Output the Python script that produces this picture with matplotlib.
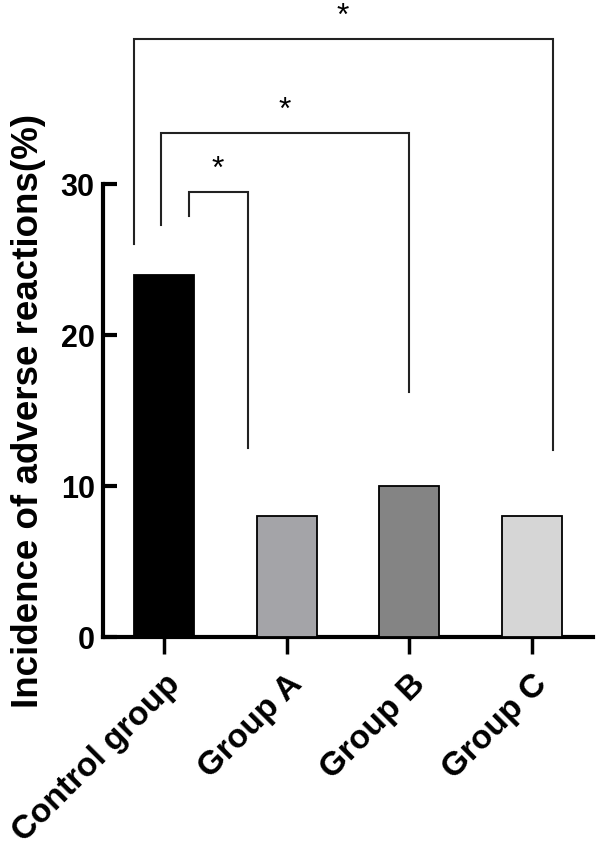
import matplotlib.pyplot as plt
import numpy as np

plt.rcParams['font.family'] = ['Liberation Sans', 'DejaVu Sans']

# данные
groups = ["Control group", "Group A", "Group B", "Group C"]
incidence = [24, 8, 10, 8]
bar_colors = ["#000000", "#a4a4a8", "#848484", "#d6d6d6"]

# скобки значимости: (левая x, правая x, верх, низ слева, низ справа)
brackets = [
    (0.20, 0.68, 29.5, 27.9, 12.5),
    (-0.03, 2.00, 33.4, 27.3, 16.2),
    (-0.25, 3.17, 39.6, 26.0, 12.4),
]
star_y = [31.0, 34.9, 41.1]

fig = plt.figure(figsize=(6, 8.53), dpi=100)
ax = fig.add_axes([103 / 600, 1 - 638 / 853, 490 / 600, 638 / 853])

x = np.arange(len(groups))
ax.bar(x, incidence, width=0.49, color=bar_colors, edgecolor="black", linewidth=1.3, zorder=3)

for (xl, xr, top, bl, br), sy in zip(brackets, star_y):
    ax.plot([xl, xl, xr, xr], [bl, top, top, br], color="#222222", lw=1.5,
            solid_joinstyle="miter", clip_on=False)
    ax.text((xl + xr) / 2, sy, "*", ha="center", va="center", fontsize=23, clip_on=False)

ax.set_xlim(-0.5, 3.5)
ax.set_ylim(0, 42.25)
ax.set_yticks([0, 10, 20, 30])
ax.set_xticks(x)
ax.set_xticklabels(groups, rotation=45, ha="right", rotation_mode="anchor",
                   fontsize=24, fontweight="bold")
for lab in ax.get_yticklabels():
    lab.set_fontsize(22)
    lab.set_fontweight("bold")

for s in ["top", "right"]:
    ax.spines[s].set_visible(False)
ax.spines["left"].set_bounds(0, 30)
ax.spines["left"].set_linewidth(3)
ax.spines["bottom"].set_linewidth(3)
ax.tick_params(axis="y", direction="in", length=10, width=3, pad=6)
ax.tick_params(axis="x", direction="out", length=12, width=2.5, pad=10)

fig.text(29 / 600, 1 - 411 / 853, "Incidence of adverse reactions(%)", rotation=90,
         ha="center", va="center", fontsize=26.5, fontweight="bold")

plt.savefig("out.png", dpi=100)
